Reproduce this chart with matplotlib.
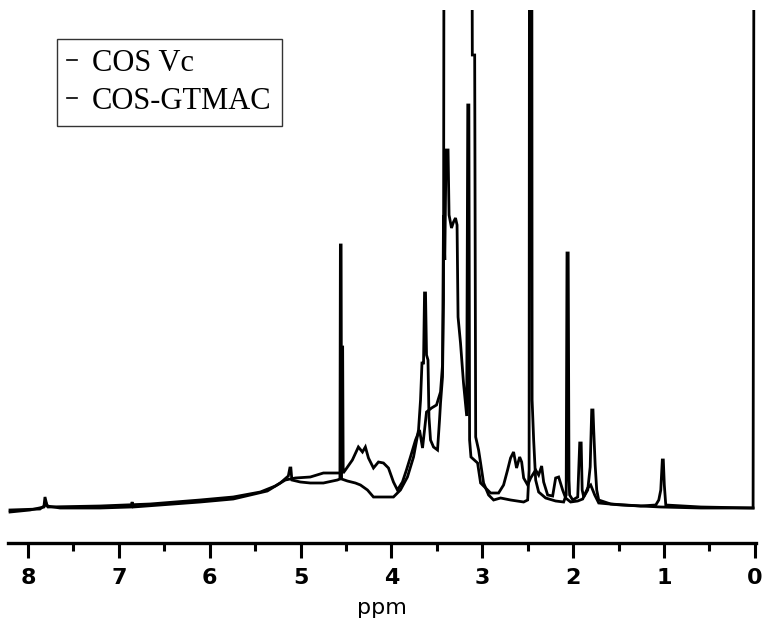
import matplotlib
matplotlib.use("Agg")
import matplotlib.pyplot as plt
from matplotlib.ticker import MultipleLocator
from matplotlib.lines import Line2D

# ppm values and intensities (arbitrary units, baseline = 0)
OFF = 900  # off-scale peaks (clipped at the top of the plot)

gtmac_ppm = [8.198, 7.868, 7.824, 7.813, 7.790, 7.647, 7.206, 6.865, 6.854, 6.843,
             6.105, 5.741, 5.366, 5.223, 5.135, 5.118, 5.107, 5.096, 5.003, 4.893,
             4.749, 4.595, 4.567, 4.562, 4.554, 4.549, 4.485, 4.397, 4.341, 4.264,
             4.198, 4.088, 3.978, 3.901, 3.824, 3.757, 3.702, 3.680, 3.664, 3.647,
             3.636, 3.625, 3.614, 3.598, 3.587, 3.570, 3.537, 3.493, 3.471, 3.460,
             3.438, 3.427, 3.418, 3.122, 3.110, 3.084, 3.073, 3.041, 3.019, 2.986,
             2.931, 2.876, 2.799, 2.689, 2.545, 2.501, 2.485, 2.479, 2.457, 2.452,
             2.435, 2.413, 2.380, 2.303, 2.193, 2.105, 2.077, 2.068, 2.055, 2.046,
             2.039, 2.005, 1.950, 1.928, 1.912, 1.901, 1.884, 1.840, 1.813, 1.796,
             1.782, 1.774, 1.758, 1.741, 1.719, 1.587, 1.256, 1.091, 1.058, 1.036,
             1.019, 1.008, 0.997, 0.981, 0.595, 0.020, 0.006, -0.004]
gtmac_int = [-2, -1, 2, 11, 2, 0, 0, 1, 6, 1,
             6, 9, 17, 25, 32, 40, 40, 28, 26, 25,
             25, 28, 29, 263, 263, 29, 27, 25, 23, 18,
             11, 11, 11, 18, 31, 51, 78, 108, 145, 145,
             215, 215, 153, 148, 91, 68, 61, 58, 88, 105,
             131, 208, OFF, OFF, 453, 453, 71, 58, 45, 25,
             13, 8, 10, 8, 6, 8, 38, OFF, OFF, 108,
             68, 28, 16, 10, 7, 6, 13, 255, 255, 28,
             13, 8, 11, 65, 65, 18, 11, 18, 41, 98,
             98, 78, 43, 18, 8, 4, 2, 3, 8, 18,
             48, 48, 23, 3, 1, 0, OFF, OFF]

vc_ppm = [8.198, 7.978, 7.824, 7.802, 7.779, 7.206, 6.656, 6.105, 5.741, 5.443,
          5.278, 5.168, 5.058, 4.893, 4.749, 4.584, 4.553, 4.548, 4.537, 4.531,
          4.507, 4.430, 4.364, 4.319, 4.287, 4.253, 4.198, 4.143, 4.088, 4.033,
          3.978, 3.934, 3.879, 3.835, 3.791, 3.735, 3.691, 3.658, 3.614, 3.559,
          3.504, 3.460, 3.438, 3.427, 3.413, 3.399, 3.377, 3.366, 3.339, 3.317,
          3.295, 3.278, 3.267, 3.240, 3.207, 3.172, 3.160, 3.148, 3.140, 3.125,
          3.052, 3.019, 2.909, 2.821, 2.766, 2.722, 2.689, 2.656, 2.623, 2.589,
          2.567, 2.545, 2.501, 2.468, 2.413, 2.380, 2.347, 2.325, 2.281, 2.226,
          2.193, 2.160, 2.116, 2.083, 2.028, 1.950, 1.895, 1.840, 1.807, 1.763,
          1.719, 1.477, 1.036, 0.595, 0.020]
vc_int = [-4, -2, 1, 5, 1, 2, 4, 8, 11, 16,
          22, 28, 30, 31, 35, 35, 35, 161, 161, 35,
          38, 48, 61, 56, 61, 50, 40, 46, 45, 40,
          26, 18, 26, 38, 51, 68, 78, 60, 96, 100,
          103, 116, 143, 293, 248, 358, 358, 293, 280, 286,
          290, 283, 191, 165, 125, 92, 403, 403, 68, 51,
          45, 25, 15, 15, 23, 38, 50, 56, 40, 51,
          46, 30, 23, 30, 38, 33, 42, 26, 13, 12,
          30, 31, 18, 10, 6, 7, 9, 20, 23, 13,
          5, 3, 1, 0, 0]

x_ticks = [8, 7, 6, 5, 4, 3, 2, 1, 0]
legend_labels = ["COS Vc", "COS-GTMAC"]

W, H = 763, 636
fig = plt.figure(figsize=(W / 100, H / 100), dpi=100)
ax = fig.add_axes([8 / W, 1 - 543 / H, 748 / W, (543 - 10) / H])

ax.plot(vc_ppm, vc_int, color="black", lw=2.0, solid_joinstyle="miter")
ax.plot(gtmac_ppm, gtmac_int, color="black", lw=2.0, solid_joinstyle="miter")

ax.set_xlim(8.22, -0.012)
ax.set_ylim(-35, 498)

for s in ["left", "top", "right"]:
    ax.spines[s].set_visible(False)
ax.spines["bottom"].set_linewidth(2.4)
ax.set_yticks([])
ax.set_xticks(x_ticks)
ax.set_xticklabels([str(t) for t in x_ticks])
ax.xaxis.set_minor_locator(MultipleLocator(0.5))
ax.tick_params(axis="x", which="major", direction="out", length=11, width=2.2,
               pad=7, labelsize=16)
ax.tick_params(axis="x", which="minor", direction="out", length=6, width=2.2)
for lab in ax.get_xticklabels():
    lab.set_fontweight("bold")
ax.set_xlabel("ppm", fontsize=16, family="DejaVu Sans", labelpad=7)

handles = [Line2D([], [], color="black", lw=1.2) for _ in legend_labels]
leg = ax.legend(handles, legend_labels, loc="upper left",
                bbox_to_anchor=(57 / W, 1 - 39 / H), bbox_transform=fig.transFigure,
                borderaxespad=0, fancybox=False, frameon=True, handlelength=0.33,
                handletextpad=0.5, borderpad=0.32, labelspacing=0.3,
                prop={"family": "Liberation Serif", "size": 22})
leg.get_frame().set_edgecolor("black")
leg.get_frame().set_linewidth(1.0)

fig.savefig("out.png", dpi=100)
